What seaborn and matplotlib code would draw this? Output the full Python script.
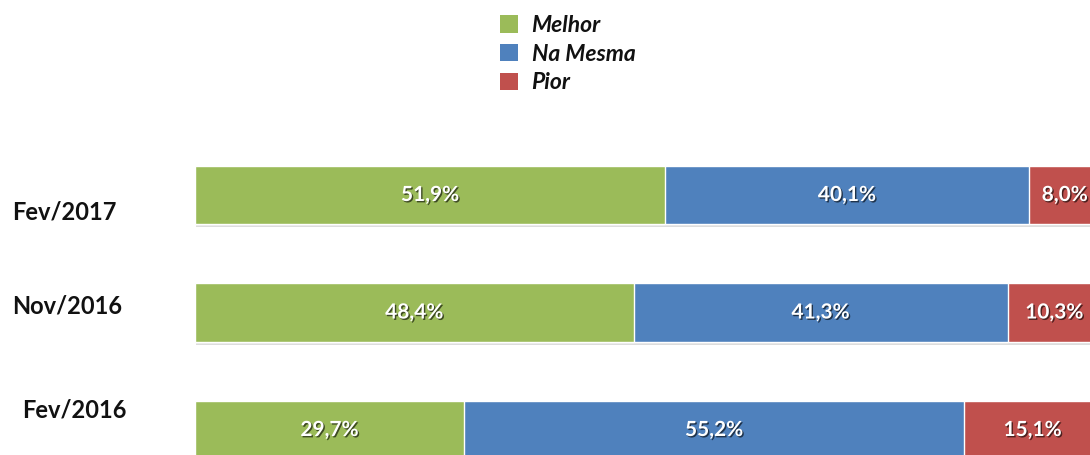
import matplotlib
matplotlib.use("Agg")
import matplotlib.pyplot as plt
import matplotlib.patheffects as pe
from matplotlib.patches import Patch
import numpy as np
import pandas as pd
import seaborn as sns

periods = ["Fev/2017", "Nov/2016", "Fev/2016"]
melhor = [51.9, 48.4, 29.7]
na_mesma = [40.1, 41.3, 55.2]
pior = [8.0, 10.3, 15.1]
series_names = ["Melhor", "Na Mesma", "Pior"]
colors = ["#9BBB59", "#4F81BD", "#C0504D"]

sns.set_theme(style="white")
plt.rcParams["font.family"] = ["Lato", "DejaVu Sans"]

W, H = 1090, 455
fig = plt.figure(figsize=(W / 100, H / 100), dpi=100)
# axes: x 0..100 spans pixels 195..1101 ; categories centered at 195, 312.5, 430 px from top
ax = fig.add_axes([195 / W, (H - 488.75) / H, 906 / W, 352.5 / H])

df = pd.DataFrame({"period": periods, "Melhor": melhor, "Na Mesma": na_mesma, "Pior": pior})
df["c1"] = df["Melhor"]
df["c2"] = df["Melhor"] + df["Na Mesma"]
df["c3"] = df["c2"] + df["Pior"]

shadow = [pe.SimplePatchShadow(offset=(1, -2), shadow_rgbFace="#a0a0a0", alpha=0.35), pe.Normal()]
sns.barplot(data=df, x="c3", y="period", orient="h", color=colors[2], saturation=1,
            width=0.5, ax=ax, order=periods)
for p in ax.patches:
    p.set_path_effects(shadow)
sns.barplot(data=df, x="c2", y="period", orient="h", color=colors[1], saturation=1,
            width=0.5, ax=ax, order=periods)
sns.barplot(data=df, x="c1", y="period", orient="h", color=colors[0], saturation=1,
            width=0.5, ax=ax, order=periods)

ax.set_xlim(0, 100)
ax.set_ylim(2.5, -0.5)
ax.set_xlabel("")
ax.set_ylabel("")
ax.set_xticks([])
ax.set_yticks([])
for s in ax.spines.values():
    s.set_visible(False)

txt_fx = [pe.SimplePatchShadow(offset=(1, -1), shadow_rgbFace="#000000", alpha=0.6), pe.Normal()]
for i in range(len(periods)):
    starts = [0, df["c1"][i], df["c2"][i]]
    vals = [melhor[i], na_mesma[i], pior[i]]
    for st, v in zip(starts, vals):
        ax.text(st + v / 2, i, f"{v:.1f}%".replace(".", ","), ha="center", va="center",
                color="white", fontsize=15, fontweight="bold", path_effects=txt_fx)

# category labels (positioned as in the original, slightly off-center)
label_pos = [(12, 212), (12, 306), (22, 410)]
for lab, (px, py) in zip(periods, label_pos):
    fig.text(px / W, 1 - py / H, lab, ha="left", va="center", fontsize=17, fontweight="bold",
             color="#111111")

handles = [Patch(facecolor=c, edgecolor="none") for c in colors]
leg = fig.legend(handles, series_names, loc="upper left", bbox_to_anchor=(500 / W, 1 - 15 / H),
                 frameon=False, borderpad=0, borderaxespad=0,
                 handlelength=0.78, handleheight=0.78, handletextpad=0.6,
                 labelspacing=0.33, labelcolor="#111111",
                 prop={"size": 16.5, "weight": "bold", "style": "italic"})

fig.savefig("out.png", dpi=100)
